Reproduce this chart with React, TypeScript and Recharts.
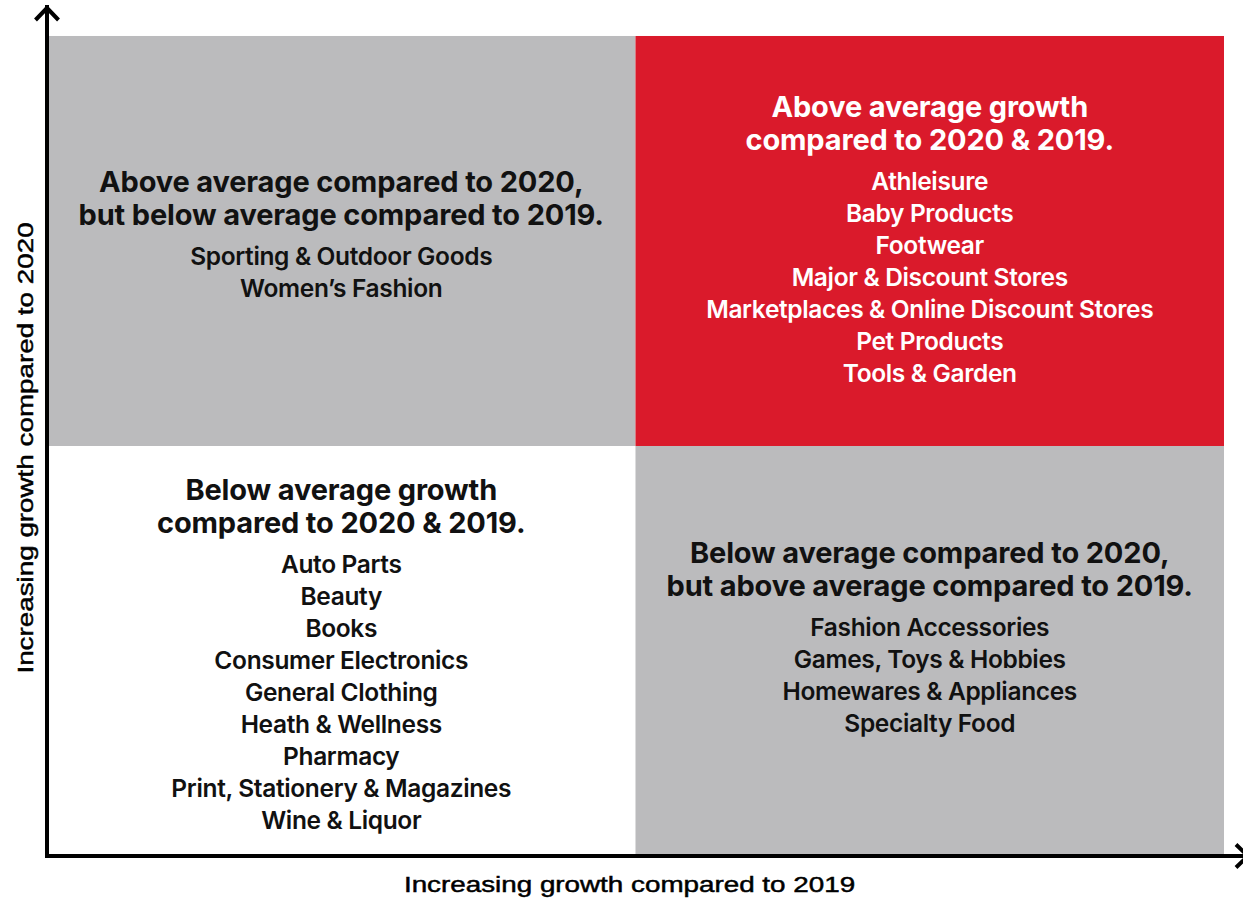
import { ScatterChart, XAxis, YAxis, ReferenceArea } from "recharts";

// quadrant bounds on both axes (growth index, average = 1)
const xSplit = [0, 1, 2];
const ySplit = [0, 1, 2];
const xDomainMax = 2.0425;
const yDomainMax = 2.0707;

const topLeftTitle = ["Above average compared to 2020,", "but below average compared to 2019."];
const topLeftItems = ["Sporting & Outdoor Goods", "Women’s Fashion"];

const topRightTitle = ["Above average growth", "compared to 2020 & 2019."];
const topRightItems = [
  "Athleisure",
  "Baby Products",
  "Footwear",
  "Major & Discount Stores",
  "Marketplaces & Online Discount Stores",
  "Pet Products",
  "Tools & Garden",
];

const bottomLeftTitle = ["Below average growth", "compared to 2020 & 2019."];
const bottomLeftItems = [
  "Auto Parts",
  "Beauty",
  "Books",
  "Consumer Electronics",
  "General Clothing",
  "Heath & Wellness",
  "Pharmacy",
  "Print, Stationery & Magazines",
  "Wine & Liquor",
];

const bottomRightTitle = ["Below average compared to 2020,", "but above average compared to 2019."];
const bottomRightItems = [
  "Fashion Accessories",
  "Games, Toys & Hobbies",
  "Homewares & Appliances",
  "Specialty Food",
];

const xAxisTitle = "Increasing growth compared to 2019";
const yAxisTitle = "Increasing growth compared to 2020";

const GRAY = "#bbbbbd";
const RED = "#da1a2b";
const TITLE_STEP = 32.5;
const ITEM_GAP = 40;
const ITEM_STEP = 32;
const CAP = 21;

function QuadrantShape(props: any) {
  const { x, y, width, height, fill, title, items, color, shift } = props;
  const cx = x + width / 2;
  const lastTitle = (title.length - 1) * TITLE_STEP;
  const blockBottom = lastTitle + ITEM_GAP + (items.length - 1) * ITEM_STEP;
  const b0 = y + height / 2 + shift - (blockBottom - CAP) / 2;
  return (
    <g>
      <rect x={x} y={y} width={width} height={height} fill={fill} />
      {title.map((t: string, i: number) => (
        <text
          key={"t" + i}
          x={cx}
          y={b0 + i * TITLE_STEP}
          textAnchor="middle"
          fill={color}
          style={{ fontFamily: "Inter", fontWeight: 700, fontSize: 29, letterSpacing: -0.15 }}
        >
          {t}
        </text>
      ))}
      {items.map((t: string, i: number) => (
        <text
          key={"i" + i}
          x={cx}
          y={b0 + lastTitle + ITEM_GAP + i * ITEM_STEP}
          textAnchor="middle"
          fill={color}
          style={{ fontFamily: "Inter", fontWeight: 600, fontSize: 24.5, letterSpacing: -0.35 }}
        >
          {t}
        </text>
      ))}
    </g>
  );
}

const axisFont = {
  fontFamily: "'Liberation Sans', Arial, sans-serif",
  fontSize: 21.4,
  fill: "#000",
  stroke: "#000",
  strokeWidth: 0.45,
};

const XTitle = (props: any) => {
  const vb = props.viewBox || { x: 47, y: 856 };
  return (
    <g transform={`translate(${vb.x + 582.5},${vb.y + 36}) scale(1.3,1)`}>
      <text x={0} y={0} textAnchor="middle" style={axisFont}>{xAxisTitle}</text>
    </g>
  );
};

const YTitle = () => (
  <g transform="translate(33,448) rotate(-90) scale(1.3,1)">
    <text x={0} y={0} textAnchor="middle" style={axisFont}>{yAxisTitle}</text>
  </g>
);

export default function App() {
  const quads = [
    { x1: xSplit[0], x2: xSplit[1], y1: ySplit[1], y2: ySplit[2], fill: GRAY, color: "#111", title: topLeftTitle, items: topLeftItems, shift: -7 },
    { x1: xSplit[1], x2: xSplit[2], y1: ySplit[1], y2: ySplit[2], fill: RED, color: "#fff", title: topRightTitle, items: topRightItems, shift: -2 },
    { x1: xSplit[0], x2: xSplit[1], y1: ySplit[0], y2: ySplit[1], fill: "#fff", color: "#111", title: bottomLeftTitle, items: bottomLeftItems, shift: 3 },
    { x1: xSplit[1], x2: xSplit[2], y1: ySplit[0], y2: ySplit[1], fill: GRAY, color: "#111", title: bottomRightTitle, items: bottomRightItems, shift: -14 },
  ];

  return (
    <div style={{ width: 1243, height: 899, background: "#fff", overflow: "hidden" }}>
      <style>{`body { margin: 0; }`}</style>
      <ScatterChart width={1243} height={899} margin={{ top: 7, right: -6, left: 46, bottom: 42 }}>
        <defs>
          <marker
            id="axisArrow"
            viewBox="0 0 22 30"
            markerWidth={22}
            markerHeight={30}
            refX={16}
            refY={15}
            orient="auto-start-reverse"
            markerUnits="userSpaceOnUse"
          >
            <path d="M3 3.5 L15 15 L3 26.5" fill="none" stroke="#000" strokeWidth={4} />
          </marker>
        </defs>
        {quads.map((q, i) => (
          <ReferenceArea
            key={i}
            x1={q.x1}
            x2={q.x2}
            y1={q.y1}
            y2={q.y2}
            fill={q.fill}
            fillOpacity={1}
            stroke="none"
            ifOverflow="visible"
            shape={(p: any) => (
              <QuadrantShape {...p} fill={q.fill} title={q.title} items={q.items} color={q.color} shift={q.shift} />
            )}
          />
        ))}
        <XAxis
          type="number"
          dataKey="x"
          domain={[0, xDomainMax]}
          allowDataOverflow
          height={1}
          tick={false}
          tickLine={false}
          axisLine={{ stroke: "#000", strokeWidth: 4, strokeLinecap: "square", markerEnd: "url(#axisArrow)" }}
          label={<XTitle />}
        />
        <YAxis
          type="number"
          dataKey="y"
          domain={[0, yDomainMax]}
          allowDataOverflow
          width={1}
          tick={false}
          tickLine={false}
          axisLine={{ stroke: "#000", strokeWidth: 4, strokeLinecap: "square", markerStart: "url(#axisArrow)" }}
          label={<YTitle />}
        />
      </ScatterChart>
    </div>
  );
}
